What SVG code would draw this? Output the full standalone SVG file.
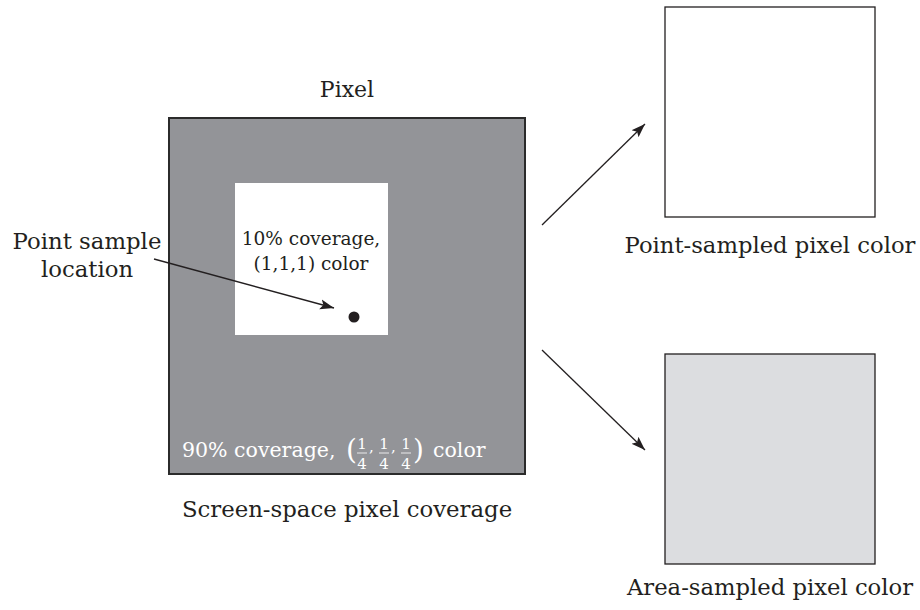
<svg xmlns="http://www.w3.org/2000/svg" width="920" height="610" viewBox="0 0 920 610">
<style>
.t{font-family:"DejaVu Serif","Liberation Serif",serif;fill:#231f20}
.w{font-family:"DejaVu Serif","Liberation Serif",serif;fill:#ffffff}
.f{font-family:"DejaVu Serif","Liberation Serif",serif;fill:#ffffff;font-size:15px;text-anchor:middle}
.c{stroke:#231f20;stroke-width:1.3;fill:none}
</style>
<defs>
<marker id="ah" markerUnits="userSpaceOnUse" markerWidth="16" markerHeight="12" refX="14" refY="6" orient="auto">
<path d="M0,1 L14,6 L0,11 L3,6 Z" fill="#231f20"/>
</marker>
</defs>
<rect width="920" height="610" fill="#ffffff"/>
<g id="pixel">
<rect x="169" y="118" width="356" height="356" fill="#939498" stroke="#2b2b2b" stroke-width="2"/>
<text class="t" x="347" y="97" font-size="22" text-anchor="middle">Pixel</text>
<text class="w" x="182" y="457" font-size="20.5">90% coverage,</text>
<text class="w" x="346" y="459" font-size="28">(</text>
<text class="f" x="362" y="449">1</text>
<text class="f" x="362" y="469">4</text>
<line x1="357" y1="453" x2="367" y2="453" stroke="#ffffff" stroke-width="0.8"/>
<text class="w" x="369" y="452" font-size="15">,</text>
<text class="f" x="384" y="449">1</text>
<text class="f" x="384" y="469">4</text>
<line x1="379" y1="453" x2="389" y2="453" stroke="#ffffff" stroke-width="0.8"/>
<text class="w" x="391" y="452" font-size="15">,</text>
<text class="f" x="406" y="449">1</text>
<text class="f" x="406" y="469">4</text>
<line x1="401" y1="453" x2="411" y2="453" stroke="#ffffff" stroke-width="0.8"/>
<text class="w" x="413" y="459" font-size="28">)</text>
<text class="w" x="433" y="457" font-size="20.5">color</text>
<text class="t" x="347" y="517" font-size="22.8" text-anchor="middle">Screen-space pixel coverage</text>
</g>
<g id="covered">
<rect x="235" y="183" width="153" height="152" fill="#ffffff"/>
<text class="t" x="311" y="245" font-size="18.5" text-anchor="middle">10% coverage,</text>
<text class="t" x="311" y="270" font-size="18.5" text-anchor="middle">(1,1,1) color</text>
<circle cx="354" cy="317" r="5.5" fill="#231f20"/>
</g>
<g id="sample-label">
<text class="t" x="87" y="249" font-size="22.8" text-anchor="middle">Point sample</text>
<text class="t" x="87" y="277" font-size="22.8" text-anchor="middle">location</text>
</g>
<g id="point-sampled">
<rect x="665" y="7" width="210" height="210" fill="#ffffff" stroke="#231f20" stroke-width="1.3"/>
<text class="t" x="770" y="253" font-size="22.7" text-anchor="middle">Point-sampled pixel color</text>
</g>
<g id="area-sampled">
<rect x="665" y="354" width="210" height="210" fill="#dcdde0" stroke="#231f20" stroke-width="1.3"/>
<text class="t" x="770" y="595" font-size="22.7" text-anchor="middle">Area-sampled pixel color</text>
</g>
<g id="connectors">
<line class="c" x1="154" y1="259" x2="334" y2="308" marker-end="url(#ah)"/>
<line class="c" x1="542" y1="225" x2="645" y2="124" marker-end="url(#ah)"/>
<line class="c" x1="542" y1="350" x2="645" y2="450" marker-end="url(#ah)"/>
</g>
</svg>
